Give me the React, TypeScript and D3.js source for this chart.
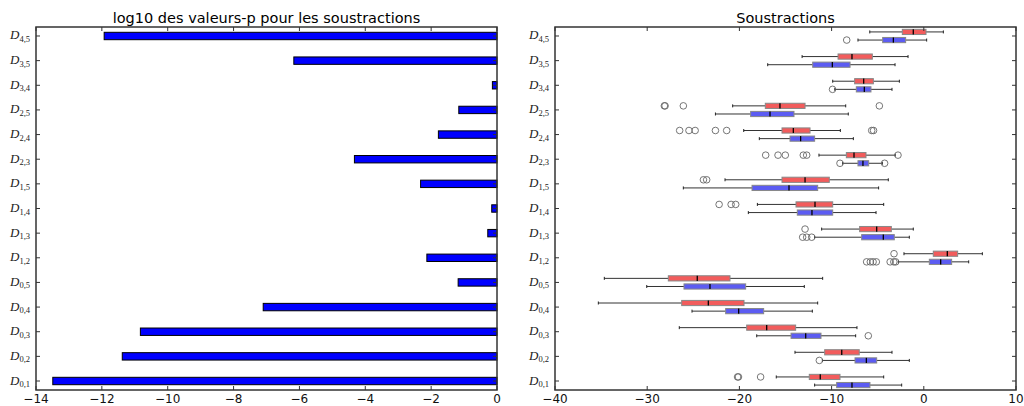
import React from 'react';
import * as d3 from 'd3';

const categories = ['0,1', '0,2', '0,3', '0,4', '0,5', '1,2', '1,3', '1,4', '1,5', '2,3', '2,4', '2,5', '3,4', '3,5', '4,5'];
const log10PValues = [-13.49, -11.38, -10.83, -7.1, -1.18, -2.13, -0.28, -0.16, -2.32, -4.33, -1.78, -1.16, -0.14, -6.17, -11.93];
const leftTicks = [-14, -12, -10, -8, -6, -4, -2, 0];
const rightTicks = [-40, -30, -20, -10, 0, 10];
const leftTitle = 'log10 des valeurs-p pour les soustractions';
const rightTitle = 'Soustractions';

// [low whisker, q1, median, q3, high whisker]
const redStats = [
  [-16.0, -12.42, -11.23, -9.09, -4.35],
  [-13.97, -10.75, -8.9, -7.0, -3.45],
  [-26.52, -19.21, -17.04, -13.9, -7.25],
  [-35.3, -26.26, -23.37, -19.5, -11.51],
  [-34.65, -27.71, -24.57, -21.02, -10.97],
  [-2.15, 1.03, 2.55, 3.67, 6.35],
  [-11.08, -6.96, -5.11, -3.52, -1.14],
  [-18.05, -13.86, -11.8, -9.88, -4.35],
  [-21.56, -15.38, -12.88, -10.25, -3.85],
  [-11.37, -8.4, -7.57, -6.27, -3.1],
  [-19.53, -15.38, -14.15, -12.34, -9.05],
  [-20.73, -17.19, -15.6, -12.88, -8.47],
  [-9.88, -7.5, -6.52, -5.47, -2.65],
  [-13.2, -9.3, -7.79, -5.58, -1.71],
  [-5.86, -2.33, -1.14, 0.24, 2.12],
];
const redOutliers = [
  [-20.2, -20.1, -17.7],
  [],
  [],
  [],
  [],
  [-3.23],
  [-12.88],
  [-22.2, -20.9, -20.4],
  [-23.9, -23.55],
  [-17.15, -15.81, -15.02, -13.07, -12.7, -2.8],
  [-26.48, -25.47, -24.8, -22.6, -21.38, -5.65, -5.45],
  [-28.14, -28.06, -26.08, -4.82],
  [],
  [],
  [],
];
const blueStats = [
  [-11.84, -9.45, -7.79, -5.84, -2.4],
  [-11.0, -7.46, -6.23, -5.11, -1.57],
  [-18.12, -14.4, -12.81, -11.15, -7.39],
  [-25.14, -21.49, -20.08, -17.37, -12.09],
  [-30.05, -26.01, -23.19, -19.32, -12.96],
  [-2.76, 0.6, 1.83, 3.02, 4.87],
  [-11.84, -6.74, -4.39, -3.2, -1.57],
  [-19.03, -13.72, -12.13, -9.88, -5.18],
  [-26.08, -18.63, -14.62, -11.51, -4.9],
  [-8.8, -7.14, -6.6, -5.98, -4.5],
  [-17.84, -14.51, -13.36, -11.84, -7.64],
  [-22.6, -18.78, -16.68, -14.08, -8.19],
  [-9.65, -7.32, -6.45, -5.73, -3.45],
  [-16.93, -12.05, -9.92, -8.0, -3.12],
  [-7.14, -4.46, -3.3, -1.97, 0.31],
];
const blueOutliers = [
  [],
  [-11.33],
  [-6.02],
  [],
  [],
  [-6.2, -5.8, -5.5, -5.15, -3.65, -3.25, -3.05],
  [-13.14, -12.7, -12.16],
  [],
  [],
  [-9.09, -4.25],
  [],
  [],
  [-9.9],
  [],
  [-8.36],
];

const W = 1024;
const H = 406;
const TOP = 27;
const BOTTOM = 390;
const L1 = 36, R1 = 497;
const L2 = 555, R2 = 1016;
const FRAME = '#333';
const TICK_FONT = 'DejaVu Sans, sans-serif';

const y = d3.scaleLinear().domain([-0.365, categories.length - 1 + 0.365]).range([BOTTOM, TOP]);
const x1 = d3.scaleLinear().domain([-14, 0]).range([L1, R1]);
const x2 = d3.scaleLinear().domain([-40, 10]).range([L2, R2]);

function YLabels({ left, right }: { left: number; right: number }) {
  return (
    <g>
      {categories.map((c, i) => (
        <g key={c}>
          <line x1={left} x2={left + 4} y1={y(i)} y2={y(i)} stroke={FRAME} />
          <line x1={right} x2={right - 4} y1={y(i)} y2={y(i)} stroke={FRAME} />
          <text x={left - 6} y={y(i) + 3.5} textAnchor="end" fontFamily="Liberation Serif, serif" fill="#222">
            <tspan fontStyle="italic" fontSize={13}>D</tspan>
            <tspan fontSize={8.5} dy={2.5}>{c}</tspan>
          </text>
        </g>
      ))}
    </g>
  );
}

function XAxis({ scale, ticks }: { scale: d3.ScaleLinear<number, number>; ticks: number[] }) {
  return (
    <g>
      {ticks.map((t) => (
        <g key={t}>
          <line x1={scale(t)} x2={scale(t)} y1={BOTTOM} y2={BOTTOM - 4} stroke={FRAME} />
          <line x1={scale(t)} x2={scale(t)} y1={TOP} y2={TOP + 4} stroke={FRAME} />
          <text x={scale(t)} y={BOTTOM + 12.5} textAnchor="middle" fontFamily={TICK_FONT} fontSize={12} fill="#111">
            {t < 0 ? '\u2212' + Math.abs(t) : String(t)}
          </text>
        </g>
      ))}
    </g>
  );
}

function Box({ stats, outliers, cy, fill }: { stats: number[]; outliers: number[]; cy: number; fill: string }) {
  const [lo, q1, med, q3, hi] = stats;
  const hh = 2.6;
  return (
    <g>
      <line x1={x2(lo)} x2={x2(q1)} y1={cy} y2={cy} stroke="#333" strokeWidth={1} />
      <line x1={x2(q3)} x2={x2(hi)} y1={cy} y2={cy} stroke="#333" strokeWidth={1} />
      <line x1={x2(lo)} x2={x2(lo)} y1={cy - 1.5} y2={cy + 1.5} stroke="#222" />
      <line x1={x2(hi)} x2={x2(hi)} y1={cy - 1.5} y2={cy + 1.5} stroke="#222" />
      <rect x={x2(q1)} y={cy - hh} width={x2(q3) - x2(q1)} height={hh * 2} fill={fill} stroke="#888" strokeWidth={1} />
      <line x1={x2(med)} x2={x2(med)} y1={cy - hh} y2={cy + hh} stroke="#000" strokeWidth={1.3} />
      {outliers.map((o, k) => (
        <circle key={k} cx={x2(o)} cy={cy} r={3.3} fill="none" stroke="#666" strokeWidth={0.9} />
      ))}
    </g>
  );
}

export default function App() {
  const barH = y(0) - y(0.3);
  const off = y(0) - y(0.165);
  return (
    <svg width={W} height={H} style={{ position: 'absolute', left: 0, top: 0, background: '#fff' }}>
      <rect x={0} y={0} width={W} height={H} fill="#fff" />
      {/* Left panel */}
      <text x={(L1 + R1) / 2} y={23} textAnchor="middle" fontFamily={TICK_FONT} fontSize={14.5} fill="#000">{leftTitle}</text>
      {log10PValues.map((v, i) => (
        <rect key={i} x={x1(v)} y={y(i) - barH / 2} width={x1(0) - x1(v)} height={barH} fill="#0000ff" stroke="#000" strokeWidth={1} />
      ))}
      <XAxis scale={x1} ticks={leftTicks} />
      <YLabels left={L1} right={R1} />
      <rect x={L1} y={TOP} width={R1 - L1} height={BOTTOM - TOP} fill="none" stroke={FRAME} strokeWidth={1.5} />

      {/* Right panel */}
      <text x={(L2 + R2) / 2} y={23} textAnchor="middle" fontFamily={TICK_FONT} fontSize={14.5} fill="#000">{rightTitle}</text>
      {categories.map((c, i) => (
        <g key={c}>
          <Box stats={redStats[i]} outliers={redOutliers[i]} cy={y(i) - off} fill="#f25c5c" />
          <Box stats={blueStats[i]} outliers={blueOutliers[i]} cy={y(i) + off} fill="#5c5cf2" />
        </g>
      ))}
      <XAxis scale={x2} ticks={rightTicks} />
      <YLabels left={L2} right={R2} />
      <rect x={L2} y={TOP} width={R2 - L2} height={BOTTOM - TOP} fill="none" stroke={FRAME} strokeWidth={1.5} />
    </svg>
  );
}
